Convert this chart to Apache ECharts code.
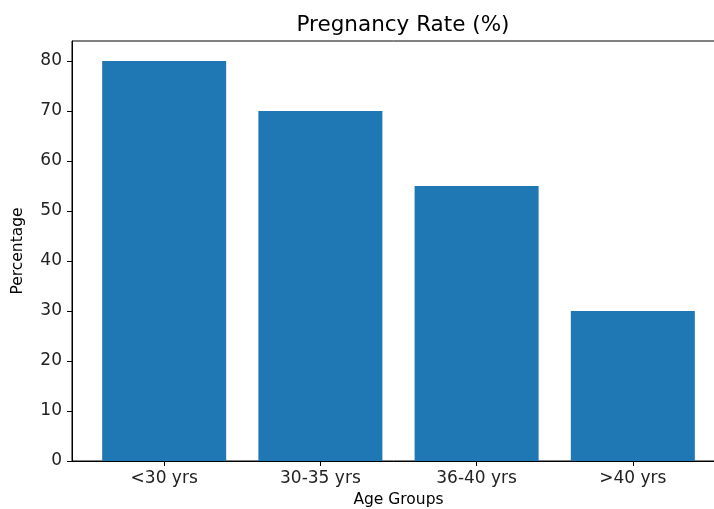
<!DOCTYPE html>
<html><head><meta charset="utf-8">
<script src="https://cdn.jsdelivr.net/npm/echarts@6/dist/echarts.min.js"></script>
<style>html,body{margin:0;padding:0;background:#fff}#c{width:714px;height:509px}</style>
</head><body><div id="c"></div>
<script>
var categories = ['<30 yrs', '30-35 yrs', '36-40 yrs', '>40 yrs'];
var pregnancyRate = [80, 70, 55, 30];
var yTicks = [0, 10, 20, 30, 40, 50, 60, 70, 80];

var font = 'DejaVu Sans';
var chart = echarts.init(document.getElementById('c'), null, {renderer: 'canvas'});
var xIdx = categories.map(function (c, i) { return i; });
chart.setOption({
  animation: false,
  title: {
    text: 'Pregnancy Rate (%)', left: 398, top: 9, textAlign: 'center',
    textStyle: {fontFamily: font, fontSize: 21.5, fontWeight: 'normal', color: '#000'}
  },
  grid: {left: 72, top: 41, width: 653, height: 420, show: true, borderColor: '#000', borderWidth: 1,
         containLabel: false, outerBoundsMode: 'none'},
  xAxis: {
    type: 'value', min: -0.59, max: 3.59,
    name: 'Age Groups', nameLocation: 'middle', nameGap: 25,
    nameTextStyle: {fontFamily: font, fontSize: 15.5, color: '#000'},
    splitLine: {show: false},
    axisLine: {show: true, onZero: false, lineStyle: {color: '#000', width: 1}},
    axisTick: {show: true, length: 5, lineStyle: {color: '#000'}, customValues: xIdx},
    axisLabel: {
      customValues: xIdx, margin: 9, fontFamily: font, fontSize: 17, color: '#222',
      formatter: function (v) { return categories[Math.round(v)]; }
    }
  },
  yAxis: {
    type: 'value', min: 0, max: 84,
    name: 'Percentage', nameLocation: 'middle', nameGap: 46,
    nameTextStyle: {fontFamily: font, fontSize: 15.5, color: '#000'},
    splitLine: {show: false},
    axisLine: {show: true, onZero: false, lineStyle: {color: '#000', width: 1}},
    axisTick: {show: true, length: 5, lineStyle: {color: '#000'}, customValues: yTicks},
    axisLabel: {customValues: yTicks, margin: 10, fontFamily: font, fontSize: 17, color: '#222'}
  },
  series: [{
    type: 'bar', barWidth: 124,
    itemStyle: {color: '#1f77b4'},
    data: pregnancyRate.map(function (v, i) { return [i, v]; })
  }]
});
</script></body></html>
